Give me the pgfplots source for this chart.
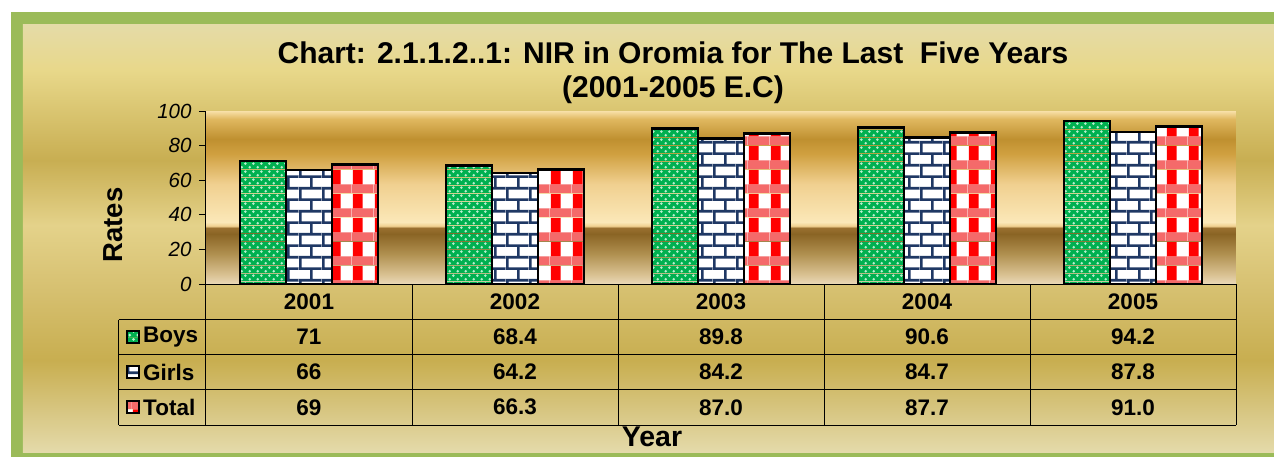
\documentclass[border=0pt]{standalone}
\usepackage{fontspec}
\setmainfont{Liberation Sans}
\usepackage{pgfplots}
\pgfplotsset{compat=1.18}
\usetikzlibrary{patterns}

\definecolor{framegreen}{HTML}{9BBB59}
\definecolor{bgA}{HTML}{E4DAAA}
\definecolor{bgB}{HTML}{C8AE50}
\definecolor{bgC}{HTML}{D6C070}
\definecolor{bgD}{HTML}{E4D28A}
\definecolor{bgE}{HTML}{C8AE52}
\definecolor{bgF}{HTML}{E8D88A}
\definecolor{bgG}{HTML}{E5DBA8}

\definecolor{gA}{HTML}{EAD8B8}
\definecolor{gB}{HTML}{D8C090}
\definecolor{gC}{HTML}{B09050}
\definecolor{gD}{HTML}{8A6424}
\definecolor{gE}{HTML}{9A7030}
\definecolor{gF}{HTML}{F0D090}
\definecolor{gG}{HTML}{FBE8B8}
\definecolor{gH}{HTML}{F0D090}
\definecolor{gI}{HTML}{D0A040}
\definecolor{gJ}{HTML}{BF9030}
\definecolor{gK}{HTML}{E0B860}
\definecolor{gL}{HTML}{F8E0A8}

\definecolor{barGreen}{HTML}{00B050}
\definecolor{dotGreen}{HTML}{B8F0D0}
\definecolor{navy}{HTML}{1F3864}
\definecolor{pinkband}{HTML}{F46A6A}
\definecolor{barRed}{HTML}{FF0000}

\pgfdeclareverticalshading{bgshade}{100bp}{color(0bp)=(bgA); color(25bp)=(bgA); color(35.7bp)=(bgB); color(43.9bp)=(bgC); color(51.5bp)=(bgD); color(59.1bp)=(bgE); color(69.6bp)=(bgF); color(75bp)=(bgG); color(100bp)=(bgG)}

\pgfdeclareverticalshading{goldband}{100bp}{color(0bp)=(gA); color(25bp)=(gA); color(27.9bp)=(gB); color(33.7bp)=(gC); color(39.5bp)=(gD); color(41.2bp)=(gE); color(41.8bp)=(gF); color(42.9bp)=(gG); color(53.9bp)=(gH); color(62.6bp)=(gI); color(66.9bp)=(gJ); color(72.7bp)=(gK); color(75bp)=(gL); color(100bp)=(gL)}

\pgfdeclarepatterninherentlycolored{greendots}{\pgfpointorigin}{\pgfqpoint{8pt}{8pt}}{\pgfqpoint{8pt}{8pt}}{%
  \pgfsetfillcolor{barGreen}\pgfpathrectangle{\pgfpointorigin}{\pgfqpoint{8pt}{8pt}}\pgfusepath{fill}%
  \pgfsetfillcolor{dotGreen}%
  \pgfpathcircle{\pgfqpoint{2pt}{2pt}}{1.6pt}\pgfpathcircle{\pgfqpoint{6pt}{6pt}}{1.6pt}\pgfusepath{fill}}

\pgfdeclarepatterninherentlycolored{bluebricks}{\pgfpointorigin}{\pgfqpoint{23pt}{23.4pt}}{\pgfqpoint{23pt}{23.4pt}}{%
  \pgfsetfillcolor{white}\pgfpathrectangle{\pgfpointorigin}{\pgfqpoint{23pt}{23.4pt}}\pgfusepath{fill}%
  \pgfsetfillcolor{navy}%
  \pgfpathrectangle{\pgfpointorigin}{\pgfqpoint{23pt}{2.8pt}}%
  \pgfpathrectangle{\pgfqpoint{0pt}{11.7pt}}{\pgfqpoint{23pt}{2.8pt}}%
  \pgfpathrectangle{\pgfqpoint{0pt}{2.8pt}}{\pgfqpoint{2.8pt}{8.9pt}}%
  \pgfpathrectangle{\pgfqpoint{11.5pt}{14.5pt}}{\pgfqpoint{2.8pt}{8.9pt}}%
  \pgfusepath{fill}}

\pgfdeclarepatterninherentlycolored{redcheck}{\pgfpointorigin}{\pgfqpoint{22pt}{24pt}}{\pgfqpoint{22pt}{24pt}}{%
  \pgfsetfillcolor{white}\pgfpathrectangle{\pgfpointorigin}{\pgfqpoint{22pt}{24pt}}\pgfusepath{fill}%
  \pgfsetfillcolor{pinkband}\pgfpathrectangle{\pgfpointorigin}{\pgfqpoint{22pt}{9pt}}\pgfusepath{fill}%
  \pgfsetfillcolor{barRed}\pgfpathrectangle{\pgfqpoint{1pt}{9pt}}{\pgfqpoint{10pt}{15pt}}\pgfusepath{fill}}

\newcommand{\tabfont}{\fontsize{22.5}{24}\selectfont\bfseries}

\begin{document}
\begin{tikzpicture}[x=1pt,y=1pt]
\clip (-206,-172) rectangle (1068,284);
\fill[white] (-206,-172) rectangle (1068,284);
\fill[framegreen] (-195,-190) rectangle (1100,272);
\shade[shading=bgshade] (-183,-168) rectangle (1090,260);

\begin{axis}[
  at={(0,0)}, anchor=south west,
  scale only axis, width=1030pt, height=173pt,
  xmin=-0.5, xmax=4.5, ymin=0, ymax=100,
  axis lines*=left,
  axis line style={black, line width=1pt},
  xtick=\empty,
  ytick={0,20,40,60,80,100},
  tick align=outside, major tick length=7pt,
  tick style={black, line width=1pt},
  /pgf/number format/assume math mode=true,
  y tick label style={font=\fontsize{20.5}{22}\selectfont\itshape, xshift=-4pt},
  axis background/.style={shading=goldband},
  ybar=0pt, bar width=46pt,
  clip=false,
]
\addplot[draw=black, line width=2.6pt, pattern=greendots] coordinates {(0,71) (1,68.4) (2,89.8) (3,90.6) (4,94.2)};
\addplot[draw=black, line width=2.6pt, pattern=bluebricks] coordinates {(0,66) (1,64.2) (2,84.2) (3,84.7) (4,87.8)};
\addplot[draw=black, line width=2.6pt, pattern=redcheck] coordinates {(0,69) (1,66.3) (2,87.0) (3,87.7) (4,91.0)};
\end{axis}

% data table
\draw[black, line width=1pt]
  (0,0) -- (1030,0)
  (-87,-35.5) -- (1030,-35.5)
  (-87,-70.5) -- (1030,-70.5)
  (-87,-105.5) -- (1030,-105.5)
  (-87,-141) -- (1030,-141)
  (-87,-35.5) -- (-87,-141)
  (0,0) -- (0,-141)
  (206,0) -- (206,-141)
  (412,0) -- (412,-141)
  (618,0) -- (618,-141)
  (824,0) -- (824,-141)
  (1030,0) -- (1030,-141);

\foreach \yr [count=\i from 0] in {2001,2002,2003,2004,2005}
  \node[font=\tabfont] at (103+206*\i,-17.75) {\yr};
\foreach \v [count=\i from 0] in {71,68.4,89.8,90.6,94.2}
  \node[font=\tabfont] at (103+206*\i,-53) {\v};
\foreach \v [count=\i from 0] in {66,64.2,84.2,84.7,87.8}
  \node[font=\tabfont] at (103+206*\i,-88) {\v};
\foreach \v [count=\i from 0] in {69,66.3,87.0,87.7,91.0}
  \node[font=\tabfont] at (103+206*\i,-123.25) {\v};

\draw[black, line width=1.8pt, pattern=greendots] (-79,-59) rectangle (-67,-47);
\draw[black, line width=1.8pt, pattern=bluebricks] (-79,-94) rectangle (-67,-82);
\draw[black, line width=1.8pt, pattern=redcheck] (-79,-129.25) rectangle (-67,-117.25);
\node[font=\tabfont, anchor=west, inner sep=0pt] at (-63,-53) {Boys};
\node[font=\tabfont, anchor=west, inner sep=0pt] at (-63,-88) {Girls};
\node[font=\tabfont, anchor=west, inner sep=0pt] at (-63,-123.25) {Total};

% axis titles
\node[font=\fontsize{27.5}{30}\selectfont\bfseries, rotate=90] at (-93,59) {Rates};
\node[font=\fontsize{28.5}{30}\selectfont\bfseries] at (446,-153) {Year};

% chart title
\node[font=\fontsize{30}{34}\selectfont\bfseries, anchor=base] at (467,221) {Chart: 2.1.1.2..1: NIR in Oromia for The Last\ \ Five Years};
\node[font=\fontsize{30}{34}\selectfont\bfseries, anchor=base] at (467,187) {(2001-2005 E.C)};
\end{tikzpicture}
\end{document}
